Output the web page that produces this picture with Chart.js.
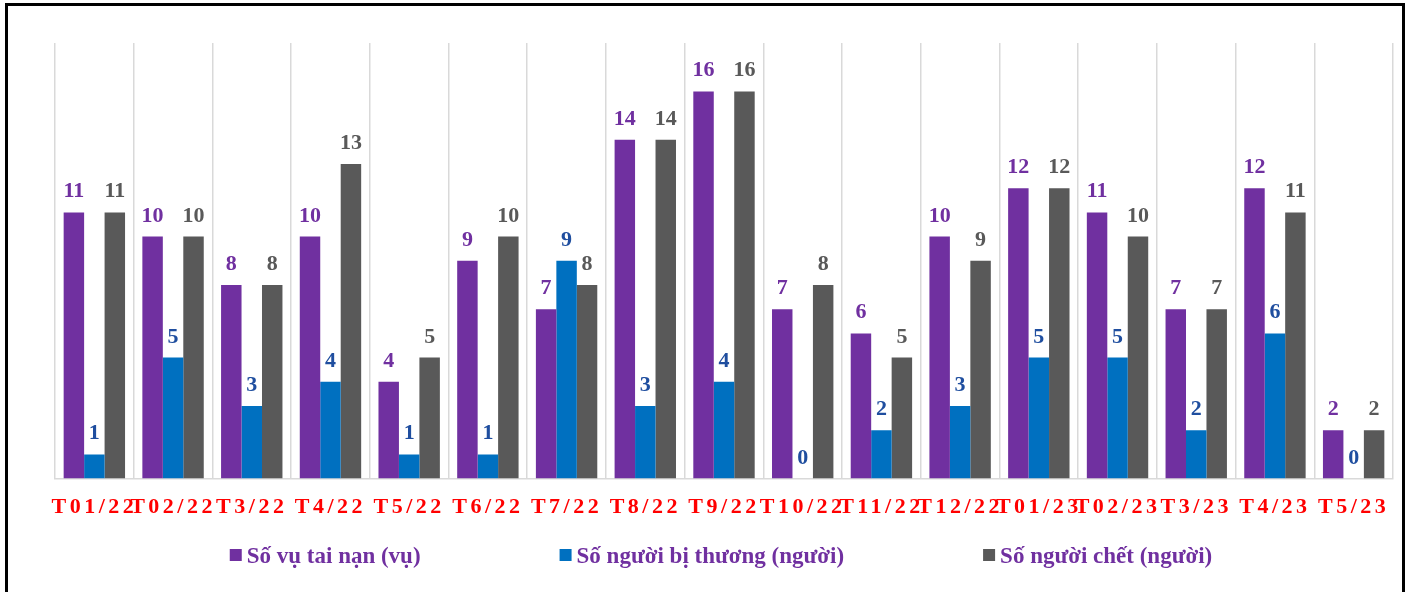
<!DOCTYPE html>
<html>
<head>
<meta charset="utf-8">
<script src="https://cdn.jsdelivr.net/npm/chart.js@4.4.1/dist/chart.umd.min.js"></script>
<style>
    body { margin: 0; background: #fff; }
    #frame {
        position: absolute;
        left: 5px;
        top: 3px;
        width: 1394px;
        height: 620px;
        border: 3px solid #000;
    }
    #box { position: relative; width: 1394px; height: 586px; }
</style>
</head>
<body>
<div id="frame">
    <div id="box"><canvas id="barChart"></canvas></div>
</div>
<script>
// Tháng
const thang = ['T01/22', 'T02/22', 'T3/22', 'T4/22', 'T5/22', 'T6/22', 'T7/22', 'T8/22', 'T9/22',
    'T10/22', 'T11/22', 'T12/22', 'T01/23', 'T02/23', 'T3/23', 'T4/23', 'T5/23'];

const soVu = [11, 10, 8, 10, 4, 9, 7, 14, 16, 7, 6, 10, 12, 11, 7, 12, 2];
const biThuong = [1, 5, 3, 4, 1, 1, 9, 3, 4, 0, 2, 3, 5, 5, 2, 6, 0];
const chet = [11, 10, 8, 13, 5, 10, 8, 14, 16, 8, 5, 9, 12, 10, 7, 11, 2];

const nhanColors = ['#7030A0', '#1F4E9F', '#595959'];
const serif = "'Liberation Serif', 'Times New Roman', serif";

// ve so lieu tren cot
const nhanSoLieu = {
    id: 'nhanSoLieu',
    afterDatasetsDraw(chart) {
        const ctx = chart.ctx;
        ctx.save();
        ctx.font = 'bold 22px ' + serif;
        ctx.textAlign = 'center';
        ctx.textBaseline = 'alphabetic';
        chart.data.datasets.forEach((ds, i) => {
            const meta = chart.getDatasetMeta(i);
            ctx.fillStyle = nhanColors[i];
            meta.data.forEach((bar, j) => {
                ctx.fillText(ds.data[j], bar.x, bar.y - 15);
            });
        });
        ctx.restore();
    }
};

// gian chu nhan truc x
const gianChu = {
    id: 'gianChu',
    beforeDraw(chart) { chart.ctx.letterSpacing = '3.5px'; },
    beforeDatasetsDraw(chart) { chart.ctx.letterSpacing = '0px'; }
};

// chu giai phia duoi
const chuGiai = {
    id: 'chuGiai',
    afterDraw(chart) {
        const ctx = chart.ctx;
        const area = chart.chartArea;
        ctx.save();
        ctx.font = 'bold 23px ' + serif;
        ctx.textBaseline = 'middle';
        const items = chart.data.datasets.map(ds => ({
            text: ds.label,
            color: ds.backgroundColor,
            w: 12 + 5 + ctx.measureText(ds.label).width
        }));
        const gap = 139;
        const total = items.reduce((s, it) => s + it.w, 0) + gap * (items.length - 1);
        let x = (area.left + area.right) / 2 - total / 2 - 3;
        const y = 549;
        items.forEach(it => {
            ctx.fillStyle = it.color;
            ctx.fillRect(x, y - 6, 12, 12);
            ctx.fillStyle = '#7030A0';
            ctx.fillText(it.text, x + 17, y + 2);
            x += it.w + gap;
        });
        ctx.restore();
    }
};

const ctx = document.getElementById('barChart').getContext('2d');
const barChart = new Chart(ctx, {
    type: 'bar',
    data: {
        labels: thang,
        datasets: [
            {
                label: 'Số vụ tai nạn (vụ)',
                data: soVu,
                backgroundColor: '#7030A0'
            },
            {
                label: 'Số người bị thương (người)',
                data: biThuong,
                backgroundColor: '#0070C0'
            },
            {
                label: 'Số người chết (người)',
                data: chet,
                backgroundColor: '#595959'
            }
        ]
    },
    options: {
        responsive: true,
        maintainAspectRatio: false,
        animation: false,
        datasets: {
            bar: {
                categoryPercentage: 0.78,
                barPercentage: 1.0
            }
        },
        layout: {
            padding: { left: 47, right: 9, top: 37, bottom: 55 }
        },
        scales: {
            x: {
                grid: {
                    color: '#D9D9D9',
                    lineWidth: 1.5,
                    drawTicks: false
                },
                border: { color: '#D9D9D9', width: 1.5 },
                ticks: {
                    color: '#FF0000',
                    font: { family: serif, size: 22, weight: 'bold' },
                    padding: 16,
                    maxRotation: 0,
                    autoSkip: false
                }
            },
            y: {
                display: false,
                min: 0,
                max: 18
            }
        },
        plugins: {
            legend: { display: false },
            tooltip: { enabled: false }
        }
    },
    plugins: [nhanSoLieu, gianChu, chuGiai]
});
</script>
</body>
</html>
